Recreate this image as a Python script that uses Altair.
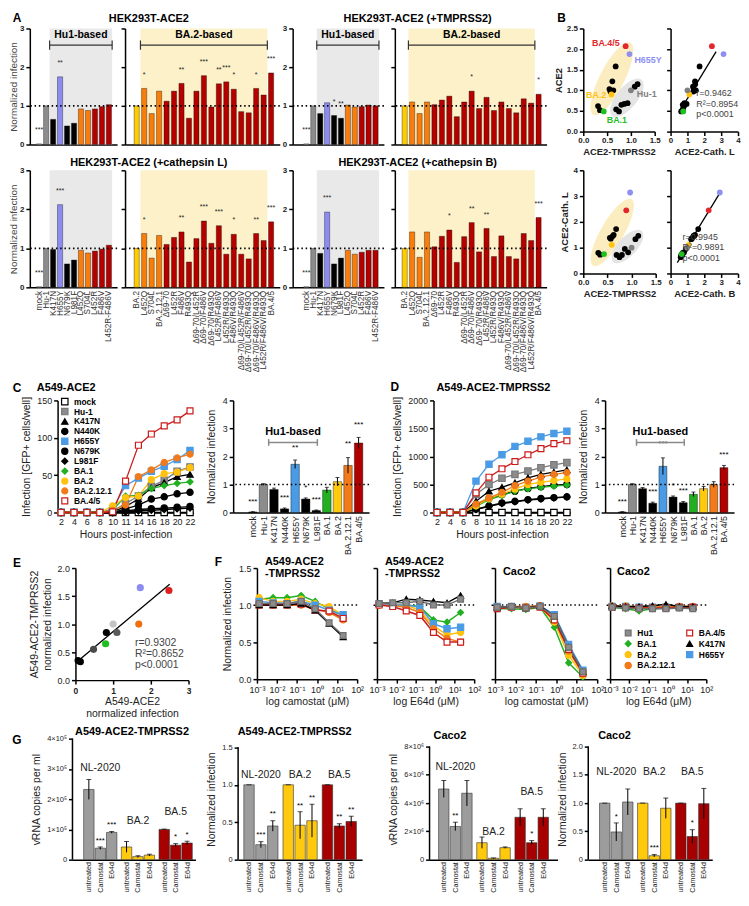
import json
import altair as alt
import pandas as pd

FONT = "Liberation Sans"

# ============================ DATA ============================
HU1_CATS = ["mock", "Hu-1", "K417N", "H655Y", "N679K", "L981F",
            "L452Q", "S704L", "L452R", "F486V", "L452R-F486V"]
BA2_CATS = ["BA.2", "L452Q", "S704L", "BA.2.12.1", "Δ69-70", "L452R", "F486V",
            "R493Q", "Δ69-70/L452R", "Δ69-70/F486V", "Δ69-70/R493Q",
            "L452R/F486V", "L452R/R493Q", "F486V/R493Q", "Δ69-70/L452R/F486V",
            "Δ69-70/L452R/R493Q", "Δ69-70/F486V/R493Q", "L452R/F486V/R493Q", "BA.4/5"]
A_ACE2_HU1 = [0.02, 1.0, 0.65, 1.75, 0.48, 0.55, 0.92, 0.88, 0.92, 0.98, 1.03]
A_ACE2_BA2 = [1.0, 1.45, 0.80, 1.38, 1.12, 1.38, 1.58, 0.68, 1.38, 1.78,
              0.97, 1.57, 1.62, 1.43, 0.85, 0.82, 1.45, 1.28, 1.85]
A_TMP_HU1 = [0.02, 1.0, 0.80, 1.08, 0.75, 0.68, 1.02, 0.97, 0.98, 1.02, 1.00]
A_TMP_BA2 = [1.0, 1.10, 0.80, 1.10, 1.03, 1.15, 1.25, 0.72, 1.10, 1.38,
             0.93, 1.22, 0.88, 1.10, 0.93, 0.82, 1.18, 1.07, 1.30]
A_CATL_HU1 = [0.02, 1.0, 0.97, 2.12, 0.60, 0.70, 0.95, 0.88, 0.93, 0.98, 1.08]
A_CATL_BA2 = [1.0, 1.38, 0.75, 1.33, 1.10, 1.28, 1.42, 0.65, 1.25, 1.70,
              1.13, 1.58, 0.85, 1.36, 0.85, 0.73, 1.38, 1.20, 1.68]
A_CATB_HU1 = [0.02, 1.0, 0.87, 1.93, 0.60, 0.75, 0.95, 0.85, 0.90, 0.95, 0.95]
A_CATB_BA2 = [1.0, 1.42, 0.77, 1.42, 1.04, 1.31, 1.47, 0.64, 1.30, 1.66,
              0.91, 1.51, 0.79, 1.32, 0.79, 0.73, 1.38, 1.20, 1.79]
# significance marks over the bars of panel A
A_ACE2_HU1_S = ["***", "", "", "**", "", "", "", "", "", "", ""]
A_ACE2_BA2_S = ["", "*", "", "", "", "", "**", "", "", "***", "", "**", "***", "*", "", "", "*", "", "***"]
A_TMP_HU1_S = ["***", "", "", "", "*", "**", "", "", "", "", ""]
A_TMP_BA2_S = ["", "", "", "", "", "", "", "", "", "*", "", "", "", "", "", "", "", "", "*"]
A_CATL_HU1_S = ["***", "", "", "***", "", "", "", "", "", "", ""]
A_CATL_BA2_S = ["", "*", "", "", "", "", "**", "", "", "***", "", "***", "", "*", "", "", "**", "", "***"]
A_CATB_HU1_S = ["***", "", "", "***", "", "", "", "", "", "", ""]
A_CATB_BA2_S = ["", "", "", "", "", "", "*", "", "", "**", "", "**", "", "", "", "", "", "", "***"]

B_GROUP = ["BA.4/5", "H655Y", "BA.2", "Hu-1", "BA.1"] + ["other"] * 14
B_FAMILY = (["BA.2-based", "H655Y", "BA.2-based", "Hu1-based", "BA.2-based"]
            + ["BA.2-based"] * 5 + ["Hu1-based"] * 7 + ["BA.2-based"] * 2)
B_TMP = [0.89, 0.97, 0.59, 1.00, 0.43, 0.68, 0.61, 0.55, 0.63, 0.57,
         1.14, 1.08, 0.93, 0.86, 0.80, 0.69, 0.75, 0.31, 0.35]
B_ACE2 = [2.07, 1.88, 0.90, 1.00, 0.49, 1.58, 1.22, 1.03, 1.00, 0.97,
          1.15, 1.09, 0.69, 0.67, 0.65, 0.54, 0.49, 0.62, 0.52]
B_CATL = [2.45, 3.14, 1.11, 1.00, 0.75, 1.72, 1.45, 1.38, 1.50, 1.35,
          1.46, 1.33, 0.82, 0.95, 0.72, 0.72, 0.63, 0.80, 0.73]
B_CATB = [2.26, 2.92, 1.07, 0.98, 0.66, 1.64, 1.40, 1.30, 1.45, 1.25,
          1.36, 1.22, 0.80, 0.90, 0.70, 0.65, 0.60, 0.72, 0.64]

HOURS = [2, 4, 6, 8, 10, 11, 14, 16, 18, 20, 22]
VARIANTS = ["mock", "Hu-1", "K417N", "N440K", "H655Y", "N679K", "L981F",
            "BA.1", "BA.2", "BA.2.12.1", "BA.4/5"]
C_MOCK = [0, 0, 0, 0, 0, 0, 0, 0, 0, 0, 0]
C_HU1 = [0, 0, 0, 0, 2, 12, 22, 35, 43, 55, 61]
C_K417N = [0, 0, 0, 0, 1, 8, 18, 33, 40, 48, 51]
C_N440K = [0, 0, 0, 0, 0, 5, 10, 18, 21, 25, 27]
C_H655Y = [0, 0, 0, 0, 5, 36, 46, 55, 62, 71, 83]
C_N679K = [0, 0, 0, 0, 0, 2, 4, 5, 6, 7, 8]
C_L981F = [0, 0, 0, 0, 0, 1, 2, 3, 4, 5, 6]
C_BA1 = [0, 0, 0, 0, 3, 22, 23, 32, 36, 39, 41]
C_BA2 = [0, 0, 0, 0, 9, 20, 22, 44, 52, 54, 60]
C_BA2121 = [0, 0, 0, 0, 3, 10, 48, 57, 67, 73, 78]
C_BA45 = [0, 0, 0, 0, 1, 42, 90, 105, 116, 124, 136]

D_MOCK = [0, 0, 0, 0, 0, 0, 0, 0, 0, 0, 0]
D_HU1 = [0, 0, 0, 320, 500, 610, 680, 740, 800, 850, 890]
D_K417N = [0, 0, 0, 200, 380, 450, 530, 620, 680, 720, 760]
D_N440K = [0, 0, 0, 60, 120, 170, 200, 230, 250, 265, 280]
D_H655Y = [0, 0, 0, 560, 860, 1030, 1180, 1270, 1350, 1410, 1450]
D_N679K = [0, 0, 0, 130, 250, 320, 380, 430, 460, 490, 500]
D_L981F = [0, 0, 0, 50, 110, 160, 190, 220, 240, 260, 275]
D_BA1 = [0, 0, 0, 110, 230, 300, 380, 420, 450, 470, 490]
D_BA2 = [0, 0, 0, 120, 250, 330, 420, 500, 540, 570, 600]
D_BA2121 = [0, 0, 0, 150, 260, 360, 480, 560, 630, 680, 710]
D_BA45 = [0, 0, 0, 350, 630, 780, 910, 1030, 1140, 1230, 1280]

C_NORM = [0.02, 1.0, 0.82, 0.13, 1.72, 0.48, 0.07, 0.80, 1.10, 1.68, 2.48]
C_SEM = [0.01, 0.03, 0.05, 0.03, 0.15, 0.04, 0.02, 0.10, 0.15, 0.28, 0.20]
C_STARS = ["***", "", "", "***", "**", "*", "***", "", "", "**", "***"]
D_NORM = [0.02, 1.0, 0.85, 0.33, 1.65, 0.55, 0.35, 0.65, 0.85, 1.00, 1.60]
D_SEM = [0.01, 0.03, 0.04, 0.04, 0.30, 0.04, 0.04, 0.08, 0.08, 0.10, 0.08]
D_STARS = ["***", "", "", "***", "***", "*", "***", "", "", "", "***"]

CONC = [0.00128, 0.0064, 0.032, 0.16, 0.8, 4, 20]
F_NAMES = ["Hu1", "BA.4/5", "BA.1", "K417N", "BA.2", "H655Y", "BA.2.12.1"]
F_DRAW = ["BA.1", "BA.2", "H655Y", "BA.2.12.1", "BA.4/5", "K417N", "Hu1"]
F1 = {"Hu1": [1.02, 1.02, 1.02, 1.05, 0.95, 0.76, 0.59],
      "BA.4/5": [1.00, 1.00, 1.00, 1.01, 0.93, 0.92, 0.82],
      "BA.1": [1.08, 1.10, 1.10, 1.13, 1.05, 0.95, 0.85],
      "K417N": [1.00, 1.00, 1.00, 1.02, 0.93, 0.75, 0.57],
      "BA.2": [1.10, 1.05, 1.05, 1.08, 1.02, 0.98, 0.86],
      "H655Y": [1.05, 1.03, 1.02, 1.05, 1.00, 0.93, 0.87],
      "BA.2.12.1": [1.00, 1.00, 1.00, 1.00, 0.95, 0.90, 0.80]}
F2 = {"Hu1": [1.02, 1.03, 1.03, 1.05, 1.00, 1.00, 1.08],
      "BA.4/5": [1.00, 0.98, 0.92, 0.86, 0.63, 0.50, 0.50],
      "BA.1": [1.00, 1.00, 1.00, 0.98, 0.80, 0.77, 0.90],
      "K417N": [1.02, 1.03, 1.08, 1.07, 1.05, 1.03, 1.13],
      "BA.2": [1.00, 1.00, 1.00, 0.93, 0.72, 0.60, 0.63],
      "H655Y": [1.02, 1.00, 1.00, 0.97, 0.75, 0.68, 0.70],
      "BA.2.12.1": [1.00, 0.99, 0.97, 0.90, 0.68, 0.55, 0.50]}
F3 = {"Hu1": [0.97, 0.98, 0.96, 0.98, 0.85, 0.43, 0.10],
      "BA.4/5": [0.95, 0.97, 0.96, 0.97, 0.80, 0.40, 0.08],
      "BA.1": [0.95, 0.95, 0.94, 0.97, 0.70, 0.22, 0.03],
      "K417N": [0.97, 0.98, 0.96, 0.99, 0.85, 0.43, 0.10],
      "BA.2": [0.96, 0.97, 0.97, 0.98, 0.77, 0.32, 0.05],
      "H655Y": [0.98, 0.98, 0.97, 0.99, 0.87, 0.47, 0.12],
      "BA.2.12.1": [0.97, 0.98, 0.98, 0.99, 0.80, 0.38, 0.07]}
F4 = {"Hu1": [0.97, 0.96, 0.95, 0.95, 0.95, 0.96, 0.95],
      "BA.4/5": [0.97, 0.97, 0.96, 0.96, 0.96, 0.97, 0.97],
      "BA.1": [0.97, 0.95, 0.92, 0.95, 0.96, 0.96, 0.96],
      "K417N": [0.99, 0.98, 0.98, 0.99, 1.01, 0.98, 0.98],
      "BA.2": [0.99, 0.99, 0.97, 0.97, 0.98, 0.98, 0.98],
      "H655Y": [0.98, 0.98, 0.97, 0.97, 0.97, 0.97, 0.97],
      "BA.2.12.1": [0.98, 0.98, 0.96, 0.97, 0.98, 0.98, 0.98]}

G_VIRUS = ["NL-2020", "BA.2", "BA.5"]
G_TREAT = ["untreated", "Camostat", "E64d"]
G1_VAL = [2.32e5, 0.38e5, 0.90e5, 0.42e5, 0.10e5, 0.15e5, 1.00e5, 0.48e5, 0.55e5]
G1_SEM = [0.33e5, 0.04e5, 0.03e5, 0.18e5, 0.03e5, 0.03e5, 0.01e5, 0.05e5, 0.06e5]
G1_STARS = ["", "***", "***", "", "", "", "", "*", "*"]
G2_VAL = [1.0, 0.20, 0.45, 1.0, 0.46, 0.52, 1.0, 0.45, 0.51]
G2_SEM = [0.0, 0.04, 0.07, 0.0, 0.18, 0.22, 0.0, 0.03, 0.07]
G2_STARS = ["", "***", "**", "", "**", "**", "", "**", "**"]
G3_VAL = [5.0e6, 2.35e6, 4.7e6, 1.2e6, 0.1e6, 0.85e6, 3.0e6, 1.2e6, 3.0e6]
G3_SEM = [0.6e6, 0.3e6, 0.9e6, 0.4e6, 0.02e6, 0.05e6, 0.6e6, 0.15e6, 0.6e6]
G3_STARS = ["", "**", "", "", "", "", "", "*", ""]
G4_VAL = [1.0, 0.49, 1.02, 1.0, 0.07, 0.91, 1.0, 0.41, 0.99]
G4_SEM = [0.0, 0.16, 0.23, 0.0, 0.02, 0.18, 0.0, 0.12, 0.27]
G4_STARS = ["", "*", "", "", "***", "", "", "*", ""]

# ============================ STYLE ============================
ORANGE = "#f97d0b"
RED = "#b50000"
YELLOW = "#ffcc00"
GRAY = "#8c8c8c"
LAV = "#8b8bf2"
BLUE = "#4a9be6"
GREEN = "#22b022"


def a_color(name):
    if name == "mock":
        return "#ffffff"
    if name == "Hu-1":
        return GRAY
    if name == "H655Y":
        return LAV
    if name in ("K417N", "N679K", "L981F"):
        return "#000000"
    if name == "BA.2":
        return YELLOW
    if name in ("L452Q", "S704L", "BA.2.12.1"):
        return ORANGE
    return RED


A_DOM = list(dict.fromkeys(HU1_CATS + BA2_CATS))
A_RNG = [a_color(n) for n in A_DOM]
B_COLORS = {"BA.4/5": "#e3262b", "H655Y": "#8f8ff2", "BA.2": "#ffc20e",
            "Hu-1": "#808080", "BA.1": "#1fc01f", "other": "#000000"}
V_SHAPE = {"mock": "square", "Hu-1": "square", "K417N": "triangle-up", "N440K": "circle",
           "H655Y": "square", "N679K": "circle", "L981F": "diamond", "BA.1": "diamond",
           "BA.2": "circle", "BA.2.12.1": "circle", "BA.4/5": "square"}
V_STROKE = {"mock": "#000000", "Hu-1": "#7a7a7a", "K417N": "#000000", "N440K": "#000000",
            "H655Y": BLUE, "N679K": "#000000", "L981F": "#000000", "BA.1": GREEN,
            "BA.2": "#ffc20e", "BA.2.12.1": "#f27a1a", "BA.4/5": "#cc1a1a"}
V_FILL = dict(V_STROKE)
V_FILL["mock"] = "#ffffff"
V_FILL["BA.4/5"] = "#ffffff"
V_FILL["Hu-1"] = "#8c8c8c"
V_SIZE = {"mock": 42, "Hu-1": 36, "K417N": 26, "N440K": 26, "H655Y": 36, "N679K": 26,
          "L981F": 20, "BA.1": 24, "BA.2": 34, "BA.2.12.1": 28, "BA.4/5": 46}
BAR_COLORS = {"mock": "#000000", "Hu-1": GRAY, "K417N": "#000000", "N440K": "#000000",
              "H655Y": BLUE, "N679K": "#000000", "L981F": "#000000", "BA.1": GREEN,
              "BA.2": "#ffc90e", "BA.2.12.1": "#f27a1a", "BA.4/5": "#b00000"}
E_COLORS = {"Hu-1": "#c4c4c4", "K417N": "#000000", "N440K": "#000000", "H655Y": "#8c8cf2",
            "N679K": "#4a4a4a", "L981F": "#000000", "BA.1": "#1fbf1f", "BA.2": "#5a5a5a",
            "BA.2.12.1": "#f07010", "BA.4/5": "#e02020"}
F_SHAPE = {"Hu1": "square", "BA.4/5": "square", "BA.1": "diamond", "K417N": "triangle-up",
           "BA.2": "circle", "H655Y": "square", "BA.2.12.1": "circle"}
F_STROKE = {"Hu1": "#6e6e6e", "BA.4/5": "#cc1a1a", "BA.1": GREEN, "K417N": "#000000",
            "BA.2": "#ffc20e", "H655Y": BLUE, "BA.2.12.1": "#f27a1a"}
F_FILL = dict(F_STROKE)
F_FILL["BA.4/5"] = "#ffffff"
F_FILL["Hu1"] = "#8c8c8c"
F_SIZE = {"Hu1": 34, "BA.4/5": 40, "BA.1": 20, "K417N": 24, "BA.2": 32, "H655Y": 34, "BA.2.12.1": 26}
G_COLORS = {"NL-2020": "#9c9c9c", "BA.2": "#ffc90e", "BA.5": "#a60000"}

ELL_YELLOW = "M -1 0 A 1 0.3 0 1 0 1 0 A 1 0.3 0 1 0 -1 0 Z"
ELL_GRAY = "M -1 0 A 1 0.45 0 1 0 1 0 A 1 0.45 0 1 0 -1 0 Z"

ONE = pd.DataFrame({"z": [0]})
UNITY = pd.DataFrame({"one": [1.0]})
RESOLVE = dict(color="independent", fill="independent", stroke="independent",
               shape="independent", size="independent")


def txt(text, x, y, size=11, weight="bold", align="center", color="#000", baseline="middle",
        line_height=None):
    kw = dict(text=text, fontSize=size, fontWeight=weight, align=align, baseline=baseline,
              color=color, font=FONT)
    if line_height:
        kw.update(lineBreak="\n", lineHeight=line_height)
    return alt.Chart(ONE).mark_text(**kw).encode(x=alt.value(x), y=alt.value(y))


def spacer(w):
    return alt.Chart(ONE).mark_point(opacity=0, size=0).encode(
        x=alt.value(0), y=alt.value(0)).properties(width=max(w, 1), height=1)


def lead_spacer(w, top, bottom):
    # invisible frame that fixes the vertical extent of a row
    return alt.Chart(ONE).mark_rect(opacity=0, strokeWidth=0).encode(
        x=alt.value(0), x2=alt.value(max(w, 1)), y=alt.value(-top), y2=alt.value(bottom)
    ).properties(width=max(w, 1), height=1)


def dotted(Y):
    return alt.Chart(UNITY).mark_rule(strokeDash=[1.5, 2.8], strokeWidth=1.6, color="#000").encode(
        y=Y("one:Q"))


def a_sub(cats, vals, stars, w, h, dom, shade_rng, shade_color, bracket, show_x, show_ylab,
          ytitle, extra):
    n = len(cats)
    df = pd.DataFrame({"i": list(range(n)), "name": cats, "v": vals, "s": stars})
    df["sy"] = df["v"] + 0.28
    lab = "[" + ",".join(json.dumps(c, ensure_ascii=False) for c in cats) + "][datum.value]"
    xs = alt.Scale(domain=dom, nice=False, zero=False)
    ys = alt.Scale(domain=[0, 3], nice=False)
    xax = alt.Axis(values=list(range(n)), labelExpr=lab, labels=show_x, ticks=False, title=None,
                   labelAngle=-90, labelAlign="right", labelBaseline="middle", labelFontSize=8.3,
                   labelPadding=3, labelLimit=300, labelColor="#333", labelOverlap=False)
    yax = alt.Axis(values=[0, 1, 2, 3], format="d", labels=show_ylab, title=ytitle,
                   labelFontWeight="bold", labelFontSize=8, labelPadding=2,
                   titleFontSize=10, titleColor="#444", titlePadding=1)

    def X(f):
        return alt.X(f, scale=xs, axis=xax)

    def Y(f):
        return alt.Y(f, scale=ys, axis=yax)

    layers = [
        alt.Chart(pd.DataFrame({"a": [shade_rng[0]], "b": [shade_rng[1]]})).mark_rect(
            color=shade_color).encode(x=X("a:Q"), x2="b:Q", y=alt.value(0), y2=alt.value(h)),
        alt.Chart(df).mark_bar(size=5.2, stroke="#000", strokeWidth=0.35).encode(
            x=X("i:Q"), y=Y("v:Q"),
            color=alt.Color("name:N", scale=alt.Scale(domain=A_DOM, range=A_RNG), legend=None)),
        dotted(Y),
        alt.Chart(df).mark_text(fontSize=7, baseline="bottom", font=FONT, color="#222").encode(
            x=X("i:Q"), y=Y("sy:Q"), text="s:N"),
    ]
    if bracket:
        label, x1, x2 = bracket
        bd = pd.DataFrame({"a": [x1], "b": [x2], "m": [(x1 + x2) / 2], "y": [2.57],
                           "y1": [2.45], "y2": [2.69], "yt": [2.84], "t": [label]})
        rule = alt.Chart(bd).mark_rule(color="#333", strokeWidth=1.2)
        layers += [
            rule.encode(x=X("a:Q"), x2="b:Q", y=Y("y:Q")),
            rule.encode(x=X("a:Q"), y=Y("y1:Q"), y2="y2:Q"),
            rule.encode(x=X("b:Q"), y=Y("y1:Q"), y2="y2:Q"),
            alt.Chart(bd).mark_text(fontWeight="bold", fontSize=10.5, baseline="middle",
                                    font=FONT).encode(x=X("m:Q"), y=Y("yt:Q"), text="t:N"),
        ]
    layers += extra
    return alt.layer(*layers).properties(width=w, height=h)


def b_scatter(xv, yv, xdom, xvals, xfmt, ydom, yvals, yfmt, xtitle, ytitle, w, h, show_ylab,
              ellipses=(), labels=None, reg=None, extra=()):
    df = pd.DataFrame({"x": xv, "y": yv, "g": B_GROUP, "fam": B_FAMILY})
    df["o"] = [0 if g == "other" else 1 for g in df["g"]]
    df = df.sort_values("o", kind="stable")
    xs = alt.Scale(domain=xdom, nice=False, zero=False)
    ys = alt.Scale(domain=ydom, nice=False, zero=False)
    xax = alt.Axis(values=xvals, format=xfmt, title=xtitle, labelFontWeight="bold",
                   labelFontSize=8, titleFontWeight="bold", titleFontSize=9.5,
                   titlePadding=2, labelPadding=1)
    yax = alt.Axis(values=yvals, format=yfmt, labels=show_ylab, title=ytitle,
                   labelFontWeight="bold", labelFontSize=8, titleFontWeight="bold",
                   titleFontSize=9.5, titlePadding=3, labelPadding=2)

    def X(f):
        return alt.X(f, scale=xs, axis=xax)

    def Y(f):
        return alt.Y(f, scale=ys, axis=yax)

    layers = []
    for fam, color, path, size, angle in ellipses:
        layers.append(
            alt.Chart(df).transform_filter(alt.datum.fam == fam)
            .transform_aggregate(x0="min(x)", x1="max(x)", y0="min(y)", y1="max(y)")
            .transform_calculate(cx="(datum.x0 + datum.x1) / 2", cy="(datum.y0 + datum.y1) / 2")
            .mark_point(shape=path, size=size, angle=angle, filled=True, color=color,
                        opacity=1, strokeWidth=0)
            .encode(x=X("cx:Q"), y=Y("cy:Q")))
    if reg:
        layers.append(alt.Chart(df).transform_regression("x", "y", extent=reg)
                      .mark_line(color="#000", strokeWidth=1.3).encode(x=X("x:Q"), y=Y("y:Q")))
    layers.append(alt.Chart(df).mark_circle(size=34, opacity=1).encode(
        x=X("x:Q"), y=Y("y:Q"),
        color=alt.Color("g:N", scale=alt.Scale(domain=list(B_COLORS), range=list(B_COLORS.values())),
                        legend=None)))
    if labels:
        for name, (dx, dy, align) in labels.items():
            layers.append(alt.Chart(df).transform_filter(alt.datum.g == name)
                          .mark_text(dx=dx, dy=dy, align=align, baseline="middle", fontSize=9,
                                     fontWeight="bold", color=B_COLORS[name], font=FONT)
                          .encode(x=X("x:Q"), y=Y("y:Q"), text="g:N"))
    layers += list(extra)
    return alt.layer(*layers).properties(width=w, height=h)


def line_panel(series, ymax, yvals, w, h, legend, extra):
    rows = []
    for name, vals in zip(VARIANTS, series):
        for hr, v in zip(HOURS, vals):
            rows.append((name, hr, v))
    df = pd.DataFrame(rows, columns=["name", "hr", "v"])
    X = alt.X("hr:O", scale=alt.Scale(type="point", domain=HOURS, padding=0.27),
              axis=alt.Axis(labelAngle=0, title="Hours post-infection", labelFontSize=9,
                            titleFontSize=10.5, titlePadding=3, tickSize=3, labelPadding=2))
    Y = alt.Y("v:Q", scale=alt.Scale(domain=[0, ymax], nice=False),
              axis=alt.Axis(values=yvals, format="d", title="Infection [GFP+ cells/well]",
                            labelFontSize=9, titleFontSize=10.5, titlePadding=5))
    s_stroke = alt.Scale(domain=VARIANTS, range=[V_STROKE[n] for n in VARIANTS])
    s_fill = alt.Scale(domain=VARIANTS, range=[V_FILL[n] for n in VARIANTS])
    s_shape = alt.Scale(domain=VARIANTS, range=[V_SHAPE[n] for n in VARIANTS])
    s_size = alt.Scale(domain=VARIANTS, range=[V_SIZE[n] for n in VARIANTS])
    if legend:
        leg = alt.Legend(orient="none", legendX=3, legendY=-3, title=None, labelFontSize=8.5,
                         labelFontWeight="bold", labelColor="#000", symbolSize=30,
                         rowPadding=-2.5, labelOffset=5, padding=0, symbolStrokeWidth=1.2)
    else:
        leg = None
    lines = alt.Chart(df).mark_line(strokeWidth=1.3).encode(
        x=X, y=Y, stroke=alt.Stroke("name:N", scale=s_stroke, legend=leg))
    pts = alt.Chart(df).mark_point(opacity=1, strokeWidth=1.2).encode(
        x=X, y=Y,
        stroke=alt.Stroke("name:N", scale=s_stroke, legend=leg),
        fill=alt.Fill("name:N", scale=s_fill, legend=leg),
        shape=alt.Shape("name:N", scale=s_shape, legend=leg),
        size=alt.Size("name:N", scale=s_size, legend=None))
    return alt.layer(lines, pts, *extra).properties(width=w, height=h)


def norm_bar(vals, sems, stars, w, h, dom, bw, bracket_rng, extra):
    n = len(VARIANTS)
    df = pd.DataFrame({"i": list(range(n)), "name": VARIANTS, "v": vals, "e": sems, "s": stars})
    df["lo"] = df["v"] - df["e"]
    df["hi"] = df["v"] + df["e"]
    df["sy"] = df["v"] + 1.5 * df["e"] + 0.2
    lab = "[" + ",".join(json.dumps(c) for c in VARIANTS) + "][datum.value]"
    xs = alt.Scale(domain=dom, nice=False, zero=False)
    ys = alt.Scale(domain=[0, 4], nice=False)
    xax = alt.Axis(values=list(range(n)), labelExpr=lab, ticks=False, title=None, labelAngle=-90,
                   labelAlign="right", labelBaseline="middle", labelFontSize=9, labelPadding=3,
                   labelColor="#222", labelOverlap=False)
    yax = alt.Axis(values=[0, 1, 2, 3, 4], format="d", title="Normalized infection",
                   labelFontSize=9, titleFontSize=10.5, titlePadding=6)

    def X(f):
        return alt.X(f, scale=xs, axis=xax)

    def Y(f):
        return alt.Y(f, scale=ys, axis=yax)

    bd = pd.DataFrame({"a": [bracket_rng[0]], "b": [bracket_rng[1]],
                       "m": [(bracket_rng[0] + bracket_rng[1]) / 2],
                       "y": [2.5], "y1": [2.38], "y2": [2.62], "yt": [2.86], "t": ["Hu1-based"]})
    rule = alt.Chart(bd).mark_rule(color="#8a8a8a", strokeWidth=1.5)
    layers = [
        alt.Chart(df).mark_bar(size=bw, stroke="#000", strokeWidth=0.4).encode(
            x=X("i:Q"), y=Y("v:Q"),
            color=alt.Color("name:N", scale=alt.Scale(domain=VARIANTS,
                                                      range=[BAR_COLORS[v] for v in VARIANTS]),
                            legend=None)),
        alt.Chart(df).mark_rule(color="#000", strokeWidth=1).encode(x=X("i:Q"), y=Y("lo:Q"), y2="hi:Q"),
        alt.Chart(df).mark_tick(color="#000", thickness=1, size=4, orient="horizontal").encode(
            x=X("i:Q"), y=Y("hi:Q")),
        dotted(Y),
        alt.Chart(df).mark_text(fontSize=8, baseline="bottom", font=FONT).encode(
            x=X("i:Q"), y=Y("sy:Q"), text="s:N"),
        rule.encode(x=X("a:Q"), x2="b:Q", y=Y("y:Q")),
        rule.encode(x=X("a:Q"), y=Y("y1:Q"), y2="y2:Q"),
        rule.encode(x=X("b:Q"), y=Y("y1:Q"), y2="y2:Q"),
        alt.Chart(bd).mark_text(fontWeight="bold", fontSize=11, baseline="middle", font=FONT).encode(
            x=X("m:Q"), y=Y("yt:Q"), text="t:N"),
    ]
    return alt.layer(*layers, *extra).properties(width=w, height=h)


def e_scatter(w, h, extra):
    df = pd.DataFrame({"name": VARIANTS[1:], "x": C_NORM[1:], "y": D_NORM[1:]})
    xs = alt.Scale(domain=[0, 3], nice=False)
    ys = alt.Scale(domain=[0, 2], nice=False)
    xax = alt.Axis(values=[0, 1, 2, 3], format="d", title=["A549-ACE2", "normalized infection"],
                   labelFontWeight="bold", labelFontSize=8.5, titleFontSize=10.5, titlePadding=2)
    yax = alt.Axis(values=[0, 0.5, 1, 1.5, 2], format=".1f",
                   title=["A549-ACE2-TMPRSS2", "normalized infection"],
                   labelFontSize=9, titleFontSize=10.5, titlePadding=5)
    X = alt.X("x:Q", scale=xs, axis=xax)
    Y = alt.Y("y:Q", scale=ys, axis=yax)
    reg = alt.Chart(df).transform_regression("x", "y", extent=[0.05, 2.5]).mark_line(
        color="#000", strokeWidth=1.3).encode(x=X, y=Y)
    pts = alt.Chart(df).mark_circle(size=52, opacity=1).encode(
        x=X, y=Y, color=alt.Color("name:N", scale=alt.Scale(domain=list(E_COLORS),
                                                          range=list(E_COLORS.values())),
                                  legend=None))
    return alt.layer(reg, pts, *extra).properties(width=w, height=h)


SUP = "['⁻³','⁻²','⁻¹','⁰','¹','²']"


def f_panel(series, xtitle, show_y, w, h, legend, extra):
    rows = []
    for name in F_DRAW:
        for c, v in zip(CONC, series[name]):
            rows.append((name, c, v))
    df = pd.DataFrame(rows, columns=["name", "c", "v"])
    X = alt.X("c:Q", scale=alt.Scale(type="log", domain=[0.001, 100], nice=False),
              axis=alt.Axis(values=[0.001, 0.01, 0.1, 1, 10, 100], title=xtitle,
                            labelExpr="'10' + " + SUP + "[round(log(datum.value) / LN10) + 3]",
                            labelFontSize=9, titleFontSize=10.5, titlePadding=3, labelPadding=2))
    ys = alt.Scale(domain=[0, 1.5], nice=False)
    yax = alt.Axis(values=[0, 0.5, 1, 1.5], format=".1f", labels=show_y,
                   title="Normalized infection" if show_y else None,
                   labelFontSize=9, titleFontSize=10.5, titlePadding=6)

    def Y(f):
        return alt.Y(f, scale=ys, axis=yax)

    s_stroke = alt.Scale(domain=F_NAMES, range=[F_STROKE[n] for n in F_NAMES])
    s_fill = alt.Scale(domain=F_NAMES, range=[F_FILL[n] for n in F_NAMES])
    s_shape = alt.Scale(domain=F_NAMES, range=[F_SHAPE[n] for n in F_NAMES])
    s_size = alt.Scale(domain=F_NAMES, range=[F_SIZE[n] for n in F_NAMES])
    if legend:
        leg = alt.Legend(orient="none", legendX=14, legendY=61, title=None, columns=2,
                         direction="horizontal", labelFontSize=8.5, labelFontWeight="bold",
                         labelColor="#000", symbolSize=30, rowPadding=-1, columnPadding=8,
                         labelOffset=5, padding=0, symbolStrokeWidth=1.2)
    else:
        leg = None
    lines = alt.Chart(df).mark_line(strokeWidth=1.5).encode(
        x=X, y=Y("v:Q"), stroke=alt.Stroke("name:N", scale=s_stroke, legend=leg))
    pts = alt.Chart(df).mark_point(opacity=1, strokeWidth=1.2).encode(
        x=X, y=Y("v:Q"),
        stroke=alt.Stroke("name:N", scale=s_stroke, legend=leg),
        fill=alt.Fill("name:N", scale=s_fill, legend=leg),
        shape=alt.Shape("name:N", scale=s_shape, legend=leg),
        size=alt.Size("name:N", scale=s_size, legend=None))
    return alt.layer(dotted(Y), lines, pts, *extra).properties(width=w, height=h)


def g_panel(vals, sems, stars, yticks, ylab_expr, ymax_axis, ymax_scale, ytitle, w, h,
            lp, rp, label_y, extra):
    gap = 0.3
    pos = [i + gap * (i // 3) for i in range(9)]
    virus = [G_VIRUS[i // 3] for i in range(9)]
    treat = [G_TREAT[i % 3] for i in range(9)]
    df = pd.DataFrame({"p": pos, "virus": virus, "treat": treat, "v": vals, "e": sems, "s": stars})
    df["lo"] = df["v"] - df["e"]
    df["hi"] = df["v"] + df["e"]
    df["sy"] = df["hi"] + 0.02 * ymax_axis
    xs = alt.Scale(domain=[-lp, pos[-1] + rp], nice=False, zero=False)
    ys = alt.Scale(domain=[0, ymax_scale], nice=False)
    lab = ("['untreated','Camostat','E64d'][round(datum.value - 0.3 * floor((datum.value + 0.01) / 3.3)) % 3]")
    xax = alt.Axis(values=pos, labelExpr=lab, ticks=False, title=None, labelAngle=-90,
                   labelAlign="right", labelBaseline="middle", labelFontSize=7.2, labelPadding=2,
                   labelColor="#222", labelOverlap=False)
    yax = alt.Axis(values=yticks, labelExpr=ylab_expr, title=ytitle, domain=False,
                   labelFontSize=7.5, titleFontSize=10.5, titlePadding=5)

    def X(f):
        return alt.X(f, scale=xs, axis=xax)

    def Y(f):
        return alt.Y(f, scale=ys, axis=yax)

    gl = pd.DataFrame({"p": [pos[1], pos[4], pos[7]], "y": label_y, "t": G_VIRUS})
    ax_df = pd.DataFrame({"a": [0.0], "b": [ymax_axis]})
    layers = [
        alt.Chart(df).mark_bar(size=10.5, stroke="#333", strokeWidth=0.6).encode(
            x=X("p:Q"), y=Y("v:Q"),
            color=alt.Color("virus:N", scale=alt.Scale(domain=G_VIRUS,
                                                       range=[G_COLORS[v] for v in G_VIRUS]),
                            legend=None)),
        alt.Chart(df).mark_rule(color="#000", strokeWidth=1).encode(x=X("p:Q"), y=Y("lo:Q"), y2="hi:Q"),
        alt.Chart(df).mark_tick(color="#000", thickness=1, size=5, orient="horizontal").encode(
            x=X("p:Q"), y=Y("hi:Q")),
        alt.Chart(df).mark_text(fontSize=8, baseline="bottom", font=FONT).encode(
            x=X("p:Q"), y=Y("sy:Q"), text="s:N"),
        alt.Chart(gl).mark_text(fontSize=10.5, baseline="bottom", font=FONT, color="#222").encode(
            x=X("p:Q"), y=Y("y:Q"), text="t:N"),
        alt.Chart(ax_df).mark_rule(color="#000", strokeWidth=1.5).encode(
            x=alt.value(0), y=Y("a:Q"), y2="b:Q"),
    ]
    return alt.layer(*layers, *extra).properties(width=w, height=h)


HU_DOM_L = [-0.63, 10.47]
HU_DOM_R = [-1.27, 10.5]
BA_DOM_L = [-0.9, 18.5]
BA_DOM_R = [-0.66, 18.41]
GRAYBG = "#e9e9e9"
YELBG = "#fcf1c9"

A1h = a_sub(HU1_CATS, A_ACE2_HU1, A_ACE2_HU1_S, 88, 117, HU_DOM_L, (1.5, HU_DOM_L[1]), GRAYBG,
            ("Hu1-based", 1.5, HU_DOM_L[1]), False, True, "Normalized infection",
            [txt("A", -13, -11, size=12), txt("HEK293T-ACE2", 120, -10)])
A1b = a_sub(BA2_CATS, A_ACE2_BA2, A_ACE2_BA2_S, 156, 117, BA_DOM_L, (0.5, 17.5), YELBG,
            ("BA.2-based", 0.5, 17.5), False, False, None, [])
A2h = a_sub(HU1_CATS, A_TMP_HU1, A_TMP_HU1_S, 92, 117, HU_DOM_R, (1.5, HU_DOM_R[1]), GRAYBG,
            ("Hu1-based", 1.5, HU_DOM_R[1]), False, True, None,
            [txt("HEK293T-ACE2 (+TMPRSS2)", 126, -10)])
A2b = a_sub(BA2_CATS, A_TMP_BA2, A_TMP_BA2_S, 153, 117, BA_DOM_R, (0.5, 17.5), YELBG,
            ("BA.2-based", 0.5, 17.5), False, False, None, [])
A3h = a_sub(HU1_CATS, A_CATL_HU1, A_CATL_HU1_S, 88, 118, HU_DOM_L, (1.5, HU_DOM_L[1]), GRAYBG,
            None, True, True, "Normalized infection",
            [txt("HEK293T-ACE2 (+cathepsin L)", 120, -7)])
A3b = a_sub(BA2_CATS, A_CATL_BA2, A_CATL_BA2_S, 156, 118, BA_DOM_L, (0.5, 17.5), YELBG, None,
            True, False, None, [])
A4h = a_sub(HU1_CATS, A_CATB_HU1, A_CATB_HU1_S, 92, 118, HU_DOM_R, (1.5, HU_DOM_R[1]), GRAYBG,
            None, True, True, None, [txt("HEK293T-ACE2 (+cathepsin B)", 126, -7)])
A4b = a_sub(BA2_CATS, A_CATB_BA2, A_CATB_BA2_S, 153, 118, BA_DOM_R, (0.5, 17.5), YELBG, None,
            True, False, None, [])

ELL_B1 = [("BA.2-based", "#fbedc0", ELL_YELLOW, 6700, 297),
          ("Hu1-based", "#e4e4e4", ELL_GRAY, 2200, 309)]
ELL_B3 = [("BA.2-based", "#fbedc0", ELL_YELLOW, 6000, 300),
          ("Hu1-based", "#e4e4e4", ELL_GRAY, 1800, 313)]
B1_LABELS = {"BA.4/5": (-6, -3, "right"), "H655Y": (5, 6, "left"), "BA.2": (-5, 1, "right"),
             "Hu-1": (6, 4, "left"), "BA.1": (3, 9, "left")}

B1 = b_scatter(B_TMP, B_ACE2, [0, 1.5], [0, 0.5, 1, 1.5], ".1f", [0, 2.5],
               [0, 0.5, 1, 1.5, 2, 2.5], ".1f", "ACE2-TMPRSS2", "ACE2", 72, 104, True,
               ellipses=ELL_B1, labels=B1_LABELS, extra=[txt("B", -22, -11, size=12)])
B2 = b_scatter(B_CATL, B_ACE2, [0, 4], [0, 1, 2, 3, 4], "d", [0, 2.5],
               [0, 0.5, 1, 1.5, 2, 2.5], ".1f", "ACE2-Cath. L", None, 68, 104, False,
               reg=[0.5, 2.7],
               extra=[txt("r=0.9462\nR²=0.8954\np<0.0001", 26, 61, size=9, weight="normal",
                          align="left", color="#444", baseline="top", line_height=10.8)])
B3 = b_scatter(B_TMP, B_CATL, [0, 1.5], [0, 0.5, 1, 1.5], ".1f", [0, 4],
               [0, 1, 2, 3, 4], "d", "ACE2-TMPRSS2", "ACE2-Cath. L", 73, 104, True,
               ellipses=ELL_B3)
B4 = b_scatter(B_CATB, B_CATL, [0, 4], [0, 1, 2, 3, 4], "d", [0, 4],
               [0, 1, 2, 3, 4], "d", "ACE2-Cath. B", None, 68, 104, False,
               reg=[0.4, 3.0],
               extra=[txt("r=0.9945\nR²=0.9891\np<0.0001", 12, 63, size=9, weight="normal",
                          align="left", color="#444", baseline="top", line_height=10.8)])

C_SERIES = [C_MOCK, C_HU1, C_K417N, C_N440K, C_H655Y, C_N679K, C_L981F, C_BA1, C_BA2, C_BA2121, C_BA45]
D_SERIES = [D_MOCK, D_HU1, D_K417N, D_N440K, D_H655Y, D_N679K, D_L981F, D_BA1, D_BA2, D_BA2121, D_BA45]

Cl = line_panel(C_SERIES, 150, [0, 50, 100, 150], 137, 113, True,
                [txt("C", -41, -12, size=12), txt("A549-ACE2", -21, -13, align="left")])
Cb = norm_bar(C_NORM, C_SEM, C_STARS, 137, 113, [-1.39, 10.52], 8.5, (1.5, 6.1), [])
Dl = line_panel(D_SERIES, 2000, [0, 500, 1000, 1500, 2000], 138, 113, False,
                [txt("D", -39, -13, size=12), txt("A549-ACE2-TMPRSS2", 3, -13, align="left")])
Db = norm_bar(D_NORM, D_SEM, D_STARS, 130, 113, [-1.2, 10.51], 8, (1.4, 6.1), [])

E = e_scatter(114, 113, [txt("E", -59, -5, size=12),
                         txt("r=0.9302\nR²=0.8652\np<0.0001", 60, 71, size=10.5, weight="normal",
                             align="left", color="#444", baseline="top", line_height=10.8)])
Fp1 = f_panel(F1, "log camostat (μM)", True, 101, 112, False,
              [txt("F", -39, -6, size=12), txt("A549-ACE2", 8, -6, align="left"),
               txt("-TMPRSS2", 8, 6, align="left")])
Fp2 = f_panel(F2, "log E64d (μM)", False, 98, 112, False,
              [txt("A549-ACE2", 8, -6, align="left"), txt("-TMPRSS2", 8, 6, align="left")])
Fp3 = f_panel(F3, "log camostat (μM)", False, 103, 112, False,
              [txt("Caco2", 8, 4, align="left")])
Fp4 = f_panel(F4, "log E64d (μM)", False, 97, 112, True,
              [txt("Caco2", 7, 4, align="left")])

G_E5 = "datum.value == 0 ? '0' : format(datum.value / 1e5, 'd') + '×10⁵'"
G_E6 = "datum.value == 0 ? '0' : format(datum.value / 1e6, 'd') + '×10⁶'"
G_DEC = "datum.value == 0 ? '0' : format(datum.value, '.1f')"
G1p = g_panel(G1_VAL, G1_SEM, G1_STARS, [0, 1e5, 2e5, 3e5, 4e5], G_E5, 4e5, 4e5,
              "vRNA copies per ml", 124, 122, 1.0, 0.3, [2.85e5, 1.1e5, 1.4e5],
              [txt("G", -56, 1, size=12), txt("A549-ACE2-TMPRSS2", 60, -7)])
G2p = g_panel(G2_VAL, G2_SEM, G2_STARS, [0, 0.5, 1.0, 1.5], G_DEC, 1.5, 1.616,
              "Normalized infection", 125, 122, 0.5, 0.5, [1.06, 1.06, 1.06],
              [txt("A549-ACE2-TMPRSS2", 57, -7)])
G3p = g_panel(G3_VAL, G3_SEM, G3_STARS, [0, 2e6, 4e6, 6e6, 8e6], G_E6, 8e6, 8.56e6,
              "vRNA copies per ml", 129, 122, 0.8, 0.8, [6.2e6, 1.6e6, 4.4e6],
              [txt("Caco2", 4, -3, align="left")])
G4p = g_panel(G4_VAL, G4_SEM, G4_STARS, [0, 0.5, 1.0, 1.5, 2.0], G_DEC, 2.0, 2.14,
              "Normalized infection", 125, 122, 1.0, 0.3, [1.47, 1.47, 1.47],
              [txt("Caco2", 10, -3, align="left")])

# ============================ LAYOUT ============================
X0 = 20
ROWS = [
    ([(25, 88, A1h), (121, 156, A1b), (290, 92, A2h), (393, 153, A2b),
      (583, 72, B1), (671, 68, B2)], (17, 130)),
    ([(25, 88, A3h), (121, 156, A3b), (290, 92, A4h), (393, 153, A4b),
      (583, 73, B3), (671, 68, B4)], (13, 211)),
    ([(53, 137, Cl), (230, 137, Cb), (432, 138, Dl), (605, 130, Db)], (21, 157)),
    ([(71, 114, E), (254, 101, Fp1), (375, 98, Fp2), (494, 103, Fp3), (610, 97, Fp4)], (12, 158)),
    ([(68, 124, G1p), (235, 125, G2p), (428, 129, G3p), (588, 125, G4p)], (14, 140)),
]

rows = []
for panels, (top, bottom) in ROWS:
    cells = []
    cur = X0
    for k, (xl, w, ch) in enumerate(panels):
        cells.append(lead_spacer(xl - cur, top, bottom) if k == 0 else spacer(xl - cur))
        cells.append(ch)
        cur = xl + w
    rows.append(alt.hconcat(*cells, spacing=0, bounds="flush").resolve_scale(**RESOLVE)
                .resolve_legend(**RESOLVE))

chart = alt.vconcat(*rows, spacing=0).resolve_scale(**RESOLVE).resolve_legend(**RESOLVE)
chart = chart.properties(padding=0).configure(font=FONT).configure_view(stroke=None).configure_axis(
    labelFont=FONT, titleFont=FONT, domainColor="#000", domainWidth=1.5, tickColor="#000",
    tickWidth=1.5, tickSize=4, labelColor="#222", titleColor="#222", titleFontWeight="normal",
    grid=False, labelFlush=False, labelOverlap=False).configure_text(font=FONT).configure_legend(
    labelFont=FONT)

chart.save("out.html", embed_options={"renderer": "svg", "actions": False})
